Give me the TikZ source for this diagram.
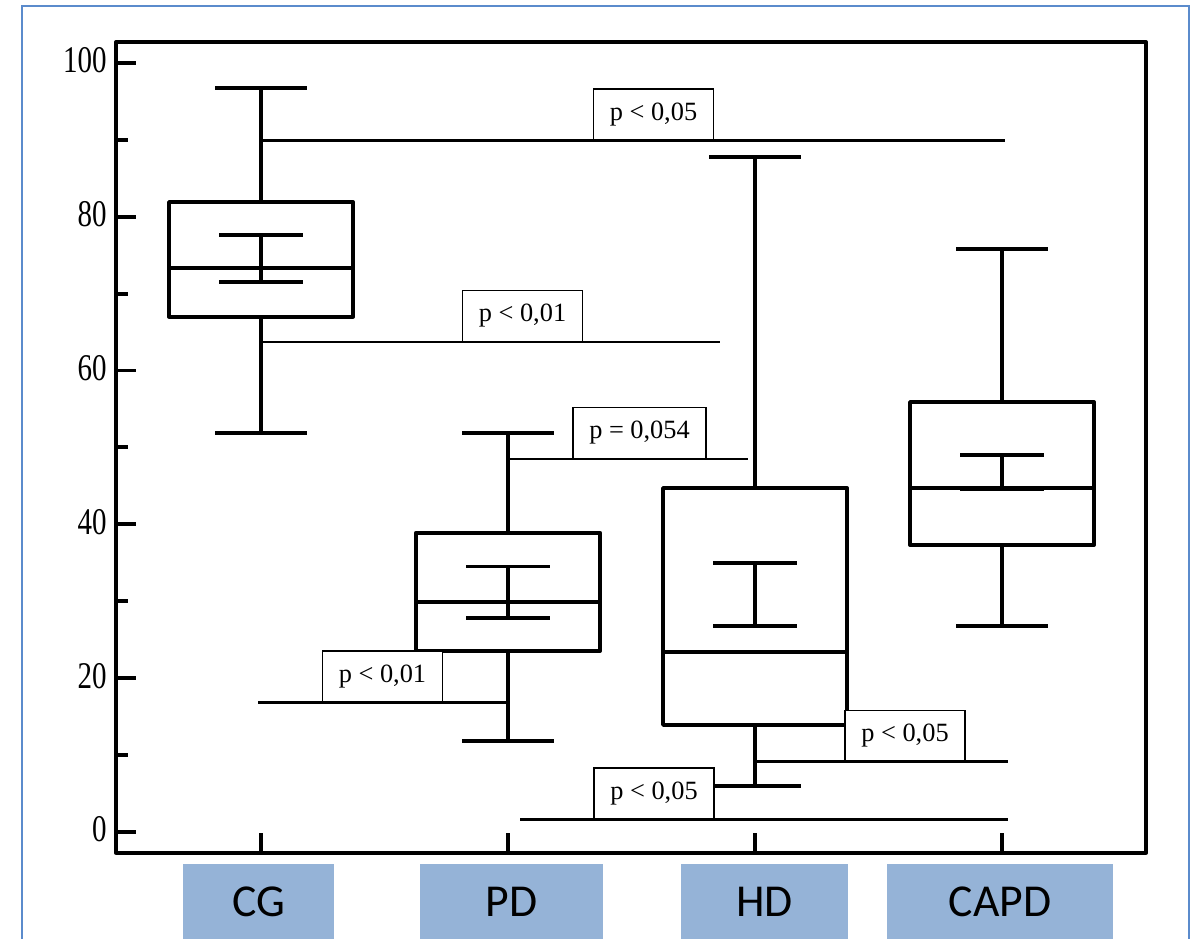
\documentclass[tikz,border=0pt]{standalone}
\usepackage{fontspec}
\setmainfont{Liberation Serif}
\newfontfamily\catfont{Carlito}
\definecolor{catblue}{RGB}{149,179,215}
\definecolor{edgeblue}{RGB}{91,139,204}

\begin{document}
\begin{tikzpicture}[
    x=0.02cm, y=0.1538cm,
    heavy/.style={line width=2.2pt, line join=round},
    cmp/.style={line width=1.5pt},
    plabel/.style={draw, fill=white, line width=0.75pt, inner xsep=9.3pt,
        minimum height=1.02cm, anchor=south, font=\fontsize{15}{17}\selectfont},
    ticklbl/.style={anchor=east, inner sep=0pt, font=\fontsize{16.5}{18}\selectfont},
    catbox/.style={fill=catblue, minimum height=1.5cm, inner sep=0pt,
        font=\catfont\fontsize{26}{28}\selectfont}
]

\useasboundingbox (0,-13.91) rectangle (1196,108.19);

% outer frame
\draw[edgeblue, line width=1.1pt] (22,-13.91) |- (1189,107.41) -- (1189,-13.91);

% axes box and ticks
\draw[heavy] (116,-2.73) rectangle (1146,102.73);
\foreach \v in {0,20,...,100}{
    \draw[heavy] (116,\v) -- (136,\v);
    \node[ticklbl] (y\v) at (107,\v+0.3) {\scalebox{1}[1.3]{\v}};
}
\foreach \v in {10,30,...,90}
    \draw[heavy] (116,\v) -- (128,\v);
\foreach \x in {261,508,755,1002}
    \draw[heavy] (\x,-2.73) -- (\x,-0.1);

% box plots: x / min / q1 / median / q3 / max / ci low / ci high
\foreach \x/\lo/\qa/\md/\qb/\hi/\ca/\cb in {
    261/51.9/67.0/73.3/81.9/96.7/71.5/77.6,
    508/11.8/23.5/29.9/38.9/51.9/27.8/34.5,
    755/6.0/13.9/23.4/44.7/87.8/26.8/35.0,
    1002/26.8/37.3/44.7/55.9/75.8/44.6/49.0}{
    \draw[heavy] (\x,\lo) -- (\x,\qa) (\x,\qb) -- (\x,\hi);
    \draw[heavy] (\x-46,\lo) -- (\x+46,\lo) (\x-46,\hi) -- (\x+46,\hi);
    \draw[heavy] (\x-92,\qa) rectangle (\x+92,\qb);
    \draw[heavy] (\x-92,\md) -- (\x+92,\md);
    \draw[heavy] (\x,\ca) -- (\x,\cb)
        (\x-42,\ca) -- (\x+42,\ca) (\x-42,\cb) -- (\x+42,\cb);
}

% significance bars
\node[plabel] (p1) at (653.5,89.9) {p < 0,05};
\node[plabel] (p2) at (522.5,63.7) {p < 0,01};
\node[plabel] (p3) at (639.5,48.5) {p = 0,054};
\node[plabel] (p4) at (382.5,16.8) {p < 0,01};
\node[plabel] (p5) at (905,9.1) {p < 0,05};
\node[plabel] (p6) at (654,1.56) {p < 0,05};

\draw[cmp] (262,89.9) -- (1005,89.9);
\draw[cmp] (262,63.7) -- (720,63.7);
\draw[cmp] (508,48.5) -- (748,48.5);
\draw[cmp] (258,16.8) -- (508,16.8);
\draw[cmp] (755,9.1) -- (1008,9.1);
\draw[cmp] (520,1.56) -- (1008,1.56);

% group names
\node[catbox, minimum width=3.02cm] (cg) at (258.5,-9.1) {CG};
\node[catbox, minimum width=3.66cm] (pd) at (511.5,-9.1) {PD};
\node[catbox, minimum width=3.34cm] (hd) at (764.5,-9.1) {HD};
\node[catbox, minimum width=4.52cm] (capd) at (1000,-9.1) {CAPD};

\end{tikzpicture}
\end{document}
